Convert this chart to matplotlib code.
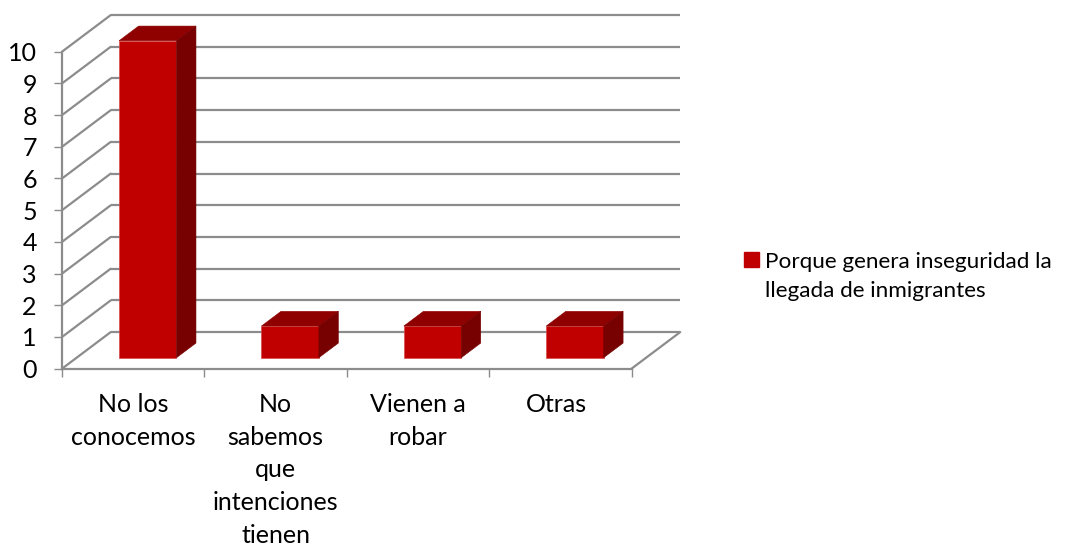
import matplotlib
matplotlib.use("Agg")
import matplotlib.pyplot as plt
from matplotlib.patches import Polygon, Patch
from matplotlib.transforms import Affine2D

categories = ["No los\nconocemos", "No\nsabemos\nque\nintenciones\ntienen", "Vienen a\nrobar", "Otras"]
values = [10, 1, 1, 1]
series_name = "Porque genera inseguridad la\nllegada de inmigrantes"
y_ticks = list(range(0, 11))

W, H = 1088, 548
GRID = "#8c8c8c"
FRONT, TOP, SIDE = "#c00000", "#8f0000", "#770000"
EDGE = "#d84a4a"
DEPTH_X, DEPTH_Y = 48.7, 36.6      # wall depth in pixels
BAR_W = 0.403
NEAR, FAR = 0.30, 0.70             # bar depth span, as fraction of the wall depth
AXIS_FONT = 18
LEGEND_FONT = 16.2

plt.rcParams["font.family"] = ["Lato", "DejaVu Sans"]
fig = plt.figure(figsize=(W / 100, H / 100), dpi=100)
L, R, T, B = 62, 631.5, 51.7, 368.7
ax = fig.add_axes([L / W, 1 - B / H, (R - L) / W, (B - T) / H])
n = len(categories)
ax.set_xlim(0, n)
ax.set_ylim(0, 10)
ax.patch.set_visible(False)
for s in ("top", "right"):
    ax.spines[s].set_visible(False)
for s in ("left", "bottom"):
    ax.spines[s].set_color(GRID)
    ax.spines[s].set_linewidth(1.6)
    ax.spines[s].set_zorder(1)


def at(f):
    return ax.transData + Affine2D().translate(DEPTH_X * f, DEPTH_Y * f)


line_style = dict(arrowstyle="-", color=GRID, lw=1.6, shrinkA=0, shrinkB=0)

# walls
for v in y_ticks:
    ax.plot([0, n], [v, v], transform=at(1), color=GRID, lw=1.6, clip_on=False, zorder=1,
            solid_capstyle="butt")
    ax.annotate("", xy=(0, v), xycoords=at(1), xytext=(0, v), textcoords=ax.transData,
                arrowprops=line_style, zorder=1)
ax.annotate("", xy=(n, 0), xycoords=at(1), xytext=(n, 0), textcoords=ax.transData,
            arrowprops=line_style, zorder=1)

# bars
centers = [i + 0.5 for i in range(n)]
ax.bar(centers, values, BAR_W, color=FRONT, edgecolor=EDGE, linewidth=0.5, transform=at(NEAR),
       clip_on=False, zorder=4)
for c, v in zip(centers, values):
    x0, x1 = c - BAR_W / 2, c + BAR_W / 2
    n_tr, f_tr = at(NEAR), at(FAR)
    a, b = n_tr.transform((x0, v)), n_tr.transform((x1, v))
    d, e = f_tr.transform((x0, v)), f_tr.transform((x1, v))
    g, h = n_tr.transform((x1, 0)), f_tr.transform((x1, 0))
    fig.add_artist(Polygon([a, b, e, d], closed=True, transform=None, facecolor=TOP,
                           edgecolor=TOP, lw=0.4, zorder=5))
    fig.add_artist(Polygon([b, e, h, g], closed=True, transform=None, facecolor=SIDE,
                           edgecolor=SIDE, lw=0.4, zorder=5))

# axes labels
ax.set_yticks(y_ticks)
ax.tick_params(axis="y", length=8.5 * 0.72, width=1.0, color=GRID, labelsize=AXIS_FONT, pad=12,
               labelcolor="black")
ax.set_xticks(range(n + 1))
ax.set_xticklabels([""] * (n + 1))
ax.tick_params(axis="x", which="major", length=8 * 0.72, width=1.0, color=GRID)
ax.set_xticks(centers, minor=True)
labels = ax.set_xticklabels(categories, minor=True, fontsize=AXIS_FONT, linespacing=1.51, color="black")
ax.tick_params(axis="x", which="minor", length=0, pad=17.5)
labels[-1].set_transform(labels[-1].get_transform() + Affine2D().translate(-4, 0))

# legend
leg = fig.legend(handles=[Patch(facecolor=FRONT, edgecolor=FRONT, label=series_name)],
                 loc="upper left", bbox_to_anchor=(742 / W, 1 - 249.5 / H), frameon=False,
                 fontsize=LEGEND_FONT, handlelength=0.66, handleheight=0.66, handletextpad=0.27,
                 labelspacing=0, borderpad=0.1, borderaxespad=0, labelcolor="black")
for t in leg.get_texts():
    t.set_linespacing(1.57)
leg.legend_handles[0].set_y(12.6)

fig.savefig("out.png", dpi=100, facecolor="white")
